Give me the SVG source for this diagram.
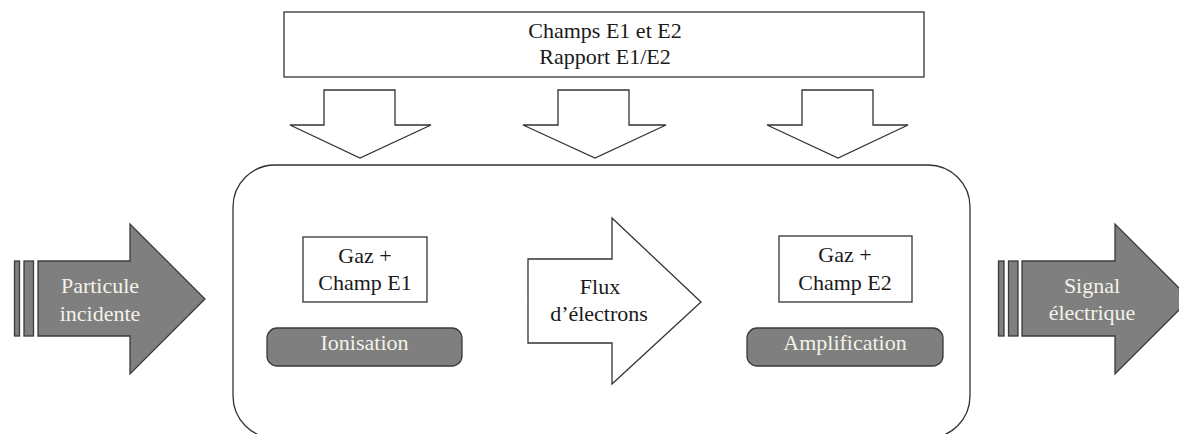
<svg xmlns="http://www.w3.org/2000/svg" width="1179" height="434" viewBox="0 0 1179 434">
<style>
.ln{fill:#fff;stroke:#333;stroke-width:1.3}
.gr{fill:#7f7f7f;stroke:#3a3a3a;stroke-width:1.3}
.t{font-family:'Liberation Serif','Times New Roman',serif;font-size:22px;fill:#1a1a1a;text-anchor:middle}
.tw{font-family:'Liberation Serif','Times New Roman',serif;font-size:22px;fill:#f4f2e8;text-anchor:middle}
</style>
<rect width="1179" height="434" fill="#fff"/>
<g id="champs">
<rect class="ln" x="284" y="12" width="640" height="65"/>
<text class="t" x="605" y="38" font-size="23">Champs E1 et E2</text>
<text class="t" x="605" y="64" font-size="23">Rapport E1/E2</text>
</g>
<g id="connectors">
<polygon class="ln" points="324,90 395,90 395,125 431,125 360,158 290,125 324,125"/>
<polygon class="ln" points="558,90 629,90 629,125 666,125 595,158 523,125 558,125"/>
<polygon class="ln" points="802,90 873,90 873,125 908,125 838,158 767,125 802,125"/>
</g>
<g id="detecteur">
<rect class="ln" x="233" y="165" width="737" height="273" rx="42" ry="42"/>
</g>
<g id="gaz1">
<rect class="ln" x="303" y="237" width="124" height="65"/>
<text class="t" x="365" y="263">Gaz +</text>
<text class="t" x="365" y="290">Champ E1</text>
</g>
<g id="ionisation">
<rect class="gr" x="267" y="328" width="195" height="38" rx="10" ry="10"/>
<text class="tw" x="364.5" y="350">Ionisation</text>
</g>
<g id="flux">
<polygon class="ln" points="528,259 612,259 612,218 701,302 612,384 612,343 528,343"/>
<text class="t" x="600" y="294" font-size="21">Flux</text>
<text class="t" x="599" y="321" font-size="21">d’électrons</text>
</g>
<g id="gaz2">
<rect class="ln" x="779" y="236" width="133" height="66"/>
<text class="t" x="845" y="262">Gaz +</text>
<text class="t" x="845" y="290">Champ E2</text>
</g>
<g id="amplification">
<rect class="gr" x="747" y="328" width="196" height="38" rx="10" ry="10"/>
<text class="tw" x="845" y="350">Amplification</text>
</g>
<g id="particule">
<rect class="gr" x="14.5" y="261" width="5" height="75"/>
<rect class="gr" x="24" y="261" width="9.5" height="75"/>
<polygon class="gr" points="38,261 130,261 130,224 205,299 130,374 130,336 38,336"/>
<text class="tw" x="100" y="293">Particule</text>
<text class="tw" x="100" y="321">incidente</text>
</g>
<g id="signal">
<rect class="gr" x="998.5" y="261" width="5.5" height="75"/>
<rect class="gr" x="1008.5" y="261" width="9.5" height="75"/>
<polygon class="gr" points="1022,261 1115,261 1115,224 1190,299 1115,374 1115,336 1022,336"/>
<text class="tw" x="1092" y="293">Signal</text>
<text class="tw" x="1092" y="320">électrique</text>
</g>
</svg>
